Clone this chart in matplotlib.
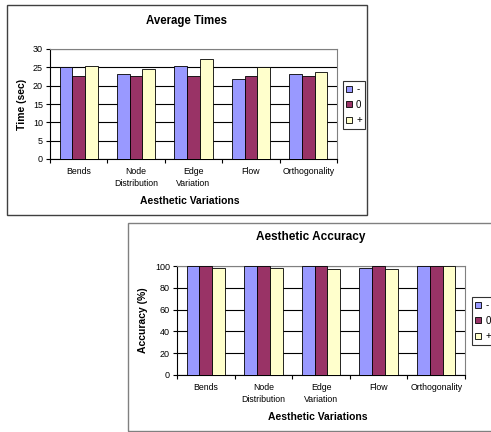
import matplotlib
matplotlib.use("Agg")
import matplotlib.pyplot as plt
import numpy as np
from matplotlib.patches import Rectangle

categories = ["Bends", "Node\nDistribution", "Edge\nVariation", "Flow", "Orthogonality"]
series_names = ["-", "0", "+"]
colors = ["#9999FF", "#993366", "#FFFFCC"]

times_minus = [25.0, 23.1, 25.5, 21.8, 23.1]
times_zero = [22.6, 22.6, 22.6, 22.6, 22.6]
times_plus = [25.5, 24.5, 27.4, 25.1, 23.6]

acc_minus = [100, 100, 100, 97.9, 100]
acc_zero = [100, 100, 100, 100, 100]
acc_plus = [97.9, 97.9, 97.0, 97.0, 100]

W, H = 491, 432
plt.rcParams["font.family"] = ["Liberation Sans", "DejaVu Sans"]
fig = plt.figure(figsize=(W / 100, H / 100), dpi=100)


def px_axes(x0, y0, x1, y1):
    # pixel box (top-left origin) -> figure axes
    return fig.add_axes([x0 / W, 1 - y1 / H, (x1 - x0) / W, (y1 - y0) / H])


def frame(x0, y0, x1, y1, color):
    fig.patches.append(Rectangle((x0 / W, 1 - y1 / H), (x1 - x0) / W, (y1 - y0) / H,
                                 transform=fig.transFigure, fill=False,
                                 edgecolor=color, lw=1.0, clip_on=False))


def bar_chart(ax, data, ymax, ystep, legend_box):
    x = np.arange(len(categories))
    w = 1 / 4.5
    for i, (vals, c, name) in enumerate(zip(data, colors, series_names)):
        ax.bar(x + (i - 1) * w, vals, w, color=c, edgecolor="black", lw=0.6,
               label=name, zorder=3)
    ax.set_xlim(-0.5, len(categories) - 0.5)
    ax.set_ylim(0, ymax)
    ax.set_yticks(np.arange(0, ymax + 1, ystep))
    ax.yaxis.grid(True, color="black", lw=0.8, zorder=0)
    ax.set_axisbelow(True)
    ax.set_xticks(x)
    ax.set_xticklabels(categories, fontsize=6.3, linespacing=1.4)
    ax.set_xticks(np.arange(-0.5, len(categories), 1), minor=True)
    ax.tick_params(axis="x", which="major", length=0, pad=6)
    ax.tick_params(axis="x", which="minor", length=3, width=0.8, direction="out")
    ax.tick_params(axis="y", labelsize=6.5, length=3, width=0.8, pad=2)
    for s in ("top", "right"):
        ax.spines[s].set_color("#808080")
        ax.spines[s].set_linewidth(0.8)
    for s in ("left", "bottom"):
        ax.spines[s].set_color("black")
        ax.spines[s].set_linewidth(0.8)
    lx0, ly0, lx1, ly1 = legend_box
    leg = ax.legend(loc="upper left", bbox_to_anchor=(lx0 / W, 1 - ly0 / H),
                    bbox_transform=fig.transFigure, fontsize=7, frameon=True,
                    fancybox=False, edgecolor="black", handlelength=0.6,
                    handleheight=0.6, handletextpad=0.4, labelspacing=0.55,
                    borderpad=0.35, borderaxespad=0)
    leg.get_frame().set_linewidth(0.8)


# top chart
frame(7, 5, 367, 215, "#404040")
ax1 = px_axes(50, 49, 337, 159)
bar_chart(ax1, [times_minus, times_zero, times_plus], 30, 5, (343, 81, 365, 127))
fig.text(186 / W, 1 - 21 / H, "Average Times", ha="center", va="center",
         fontsize=8.3, fontweight="bold")
fig.text(190 / W, 1 - 201 / H, "Aesthetic Variations", ha="center", va="center",
         fontsize=7.5, fontweight="bold")
fig.text(22 / W, 1 - 104 / H, "Time (sec)", ha="center", va="center",
         fontsize=7.5, fontweight="bold", rotation=90)

# bottom chart
frame(128, 223, 500, 431, "#808080")
ax2 = px_axes(177, 266, 465, 375)
bar_chart(ax2, [acc_minus, acc_zero, acc_plus], 100, 20, (472, 297, 494, 343))
fig.text(311 / W, 1 - 237 / H, "Aesthetic Accuracy", ha="center", va="center",
         fontsize=8.5, fontweight="bold")
fig.text(318 / W, 1 - 417 / H, "Aesthetic Variations", ha="center", va="center",
         fontsize=7.5, fontweight="bold")
fig.text(143 / W, 1 - 320 / H, "Accuracy (%)", ha="center", va="center",
         fontsize=7.5, fontweight="bold", rotation=90)

fig.savefig("out.png", dpi=100)
